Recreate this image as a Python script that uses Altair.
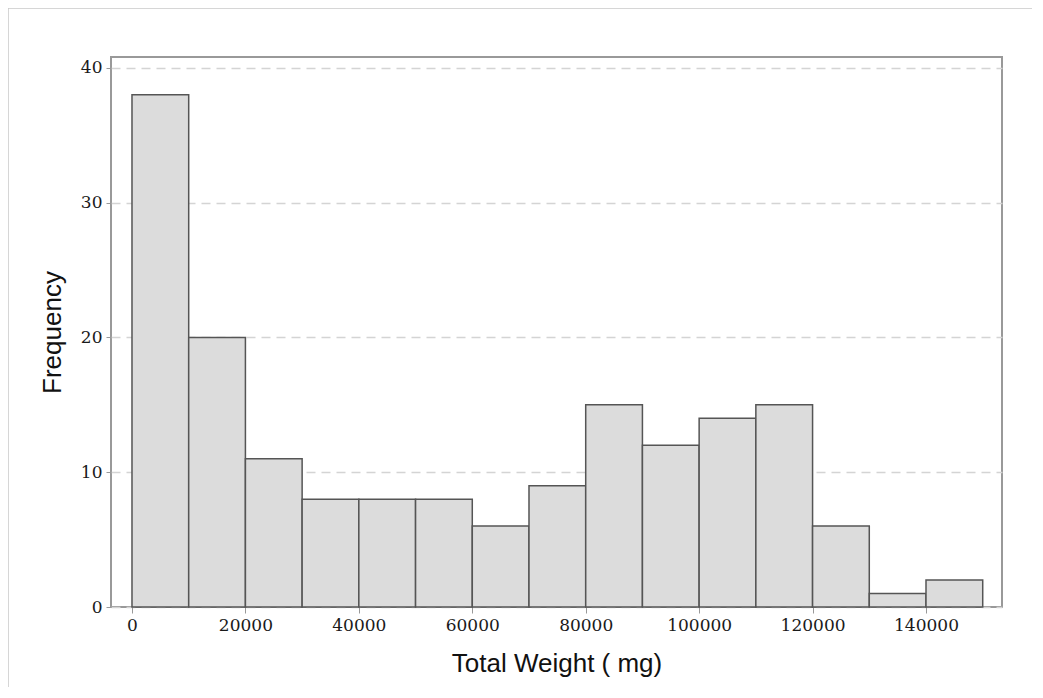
import altair as alt
import pandas as pd

bin_start = [0, 10000, 20000, 30000, 40000, 50000, 60000, 70000, 80000, 90000,
             100000, 110000, 120000, 130000, 140000]
bin_end = [s + 10000 for s in bin_start]
counts = [38, 20, 11, 8, 8, 8, 6, 9, 15, 12, 14, 15, 6, 1, 2]
x_ticks = [0, 20000, 40000, 60000, 80000, 100000, 120000, 140000]
y_ticks = [0, 10, 20, 30, 40]

df = pd.DataFrame({"start": bin_start, "end": bin_end, "count": counts})

bars = alt.Chart(df).mark_rect(
    fill="#dcdcdc", stroke="#555555", strokeWidth=1.5
).encode(
    x=alt.X("start:Q",
            scale=alt.Scale(domain=[-3700, 153400], nice=False, zero=False),
            axis=alt.Axis(values=x_ticks, title="Total Weight ( mg)", grid=False,
                          format="d", labelFont="DejaVu Serif", labelFontSize=17,
                          labelColor="#1a1a1a", tickColor="#999999", tickSize=6,
                          domain=False, labelPadding=4,
                          titleFont="Liberation Sans", titleFontSize=26,
                          titleFontWeight="normal", titleColor="#111111",
                          titleX=445.5, titleY=56, titleAlign="center",
                          titleBaseline="middle")),
    x2="end:Q",
    y=alt.Y("count:Q",
            scale=alt.Scale(domain=[0, 40.8], nice=False),
            axis=alt.Axis(values=y_ticks, title="Frequency", grid=True,
                          gridColor="#d4d4d4", gridDash=[9, 6], gridWidth=1.3,
                          labelFont="DejaVu Serif", labelFontSize=17,
                          labelColor="#1a1a1a", tickColor="#999999", tickSize=5,
                          domain=False, labelPadding=4,
                          titleFont="Liberation Sans", titleFontSize=26,
                          titleFontWeight="normal", titleColor="#111111",
                          titleX=-59, titleY=275, titleAngle=270,
                          titleAlign="center", titleBaseline="middle")),
)

border = alt.Chart(pd.DataFrame({"v": [0]})).mark_rule(
    color="#c8c8c8", strokeWidth=1.5
).encode(x=alt.value(-103), y=alt.value(-49), y2=alt.value(650))

border_top = alt.Chart(pd.DataFrame({"v": [0]})).mark_rule(
    color="#c8c8c8", strokeWidth=1.5
).encode(x=alt.value(-103), x2=alt.value(940), y=alt.value(-49))

chart = alt.layer(bars, border, border_top).properties(
    width=891, height=550,
    background="white",
    autosize=alt.AutoSizeParams(type="none"),
    padding={"left": 103, "top": 49, "right": 30, "bottom": 80},
).configure_view(
    stroke="#999999", strokeWidth=2
)

chart.save("out.html", embed_options={"renderer": "svg", "actions": False})
